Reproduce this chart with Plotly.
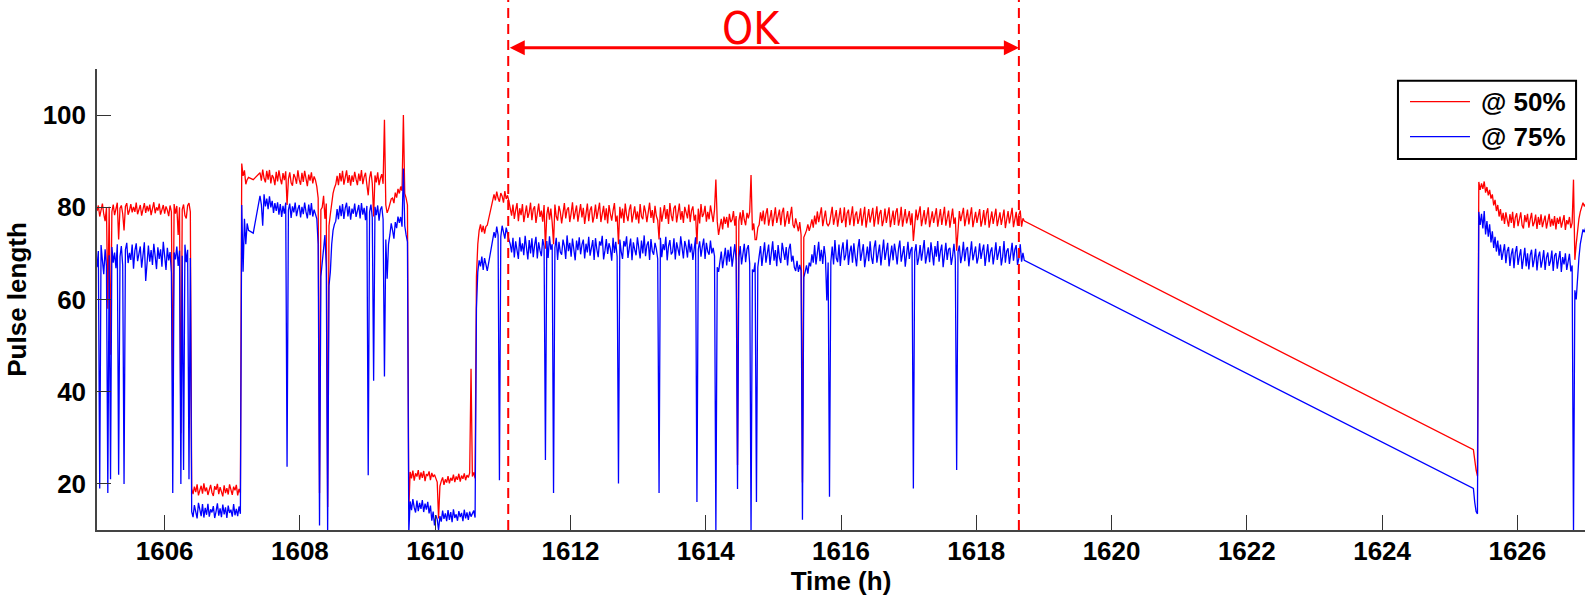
import numpy as np
import plotly.graph_objects as go

# ---------------- data ----------------
sample_step_h = 0.02
# start time (h) of each continuously recorded segment
seg_start = [1605.00, 1607.31, 1607.41, 1610.87, 1625.35]

red_s1 = [79.2, 80.4, 78.0, 79.6, 80.8, 78.5, 77.0, 79.9, 58.0, 80.1,
          48.0, 79.0, 80.6, 78.3, 79.5, 81.0, 73.0, 79.8, 80.4, 78.6,
          75.0, 80.2, 80.9, 78.4, 79.3, 80.7, 78.9, 80.1, 79.0, 81.0,
          78.5, 79.8, 80.5, 78.2, 79.6, 80.9, 78.8, 80.3, 79.1, 80.6,
          78.3, 79.9, 81.1, 78.7, 80.0, 79.3, 80.8, 78.4, 79.7, 80.5,
          78.6, 80.2, 79.4, 78.1, 80.4, 79.0, 39.0, 80.7, 78.6, 80.3,
          74.0, 80.0, 31.0, 79.5, 80.6, 78.2, 77.6, 80.4, 80.9, 79.0,
          19.0, 17.8, 19.4, 18.2, 19.9, 17.5, 18.6, 19.6, 17.9, 20.1,
          18.4, 19.2, 17.6, 18.9, 19.8, 18.1, 17.4, 19.5, 18.7, 20.0,
          17.8, 19.3, 18.5, 17.3, 19.7, 18.0, 19.1, 17.7, 19.9, 18.3,
          17.6, 19.4, 18.6, 19.8, 17.5, 18.9, 18.0,
          89.5, 86.8, 88.0, 85.0, 86.0, 86.5]
blue_s1 = [67.0, 70.5, 19.0, 71.8, 68.5, 65.5, 70.9, 67.2, 18.0, 69.6,
           21.0, 71.4, 68.0, 70.2, 66.8, 72.0, 22.0, 69.3, 71.6, 67.4,
           20.0, 70.8, 72.3, 67.9, 70.1, 68.6, 71.9, 66.7, 70.6, 72.2,
           68.3, 69.8, 71.5, 66.9, 70.4, 72.4, 64.0, 69.1, 71.7, 68.2,
           70.7, 67.5, 72.1, 69.4, 66.6, 71.3, 68.8, 70.9, 67.1, 72.5,
           69.0, 66.4, 71.2, 68.5, 70.3, 65.8, 18.0, 70.2, 68.7, 71.5,
           67.3, 70.6, 20.0, 69.5, 23.0, 71.9, 68.1, 70.8, 21.0, 69.0,
           14.0, 12.8, 15.4, 13.6, 12.5, 15.9, 14.2, 13.0, 15.6, 12.7,
           14.8, 13.3, 15.7, 12.9, 14.5, 13.8, 15.2, 12.6, 14.0, 15.8,
           13.1, 14.7, 12.8, 15.5, 13.4, 14.9, 12.6, 15.3, 13.7, 14.4,
           12.9, 15.6, 13.2, 14.6, 13.0, 15.1, 13.5,
           80.5, 66.0, 77.5, 72.0, 76.5, 75.0]

red_s2 = [86.0]
blue_s2 = [74.4]

red_s3 = [87.5, 85.8, 88.2, 86.3, 85.4, 87.9, 86.0, 88.1, 85.2, 87.0,
          86.4, 84.8, 87.7, 85.6, 88.0, 86.2, 85.0, 87.4, 85.9, 87.8,
          80.5, 86.1, 87.6, 85.3, 84.7, 87.2, 86.5, 85.1, 88.0, 86.0,
          84.9, 87.5, 85.5, 87.9, 86.3, 84.6, 87.1, 85.8, 87.6, 85.2,
          86.7, 85.9, 84.5, 82.0, 18.0, 79.5, 80.0, 82.5, 77.5, 80.8,
          15.0, 76.0, 78.5, 81.0, 83.0, 84.2, 85.0, 86.8, 84.8, 87.4,
          85.6, 87.9, 84.9, 86.5, 88.0, 85.3, 87.0, 84.7, 86.9, 85.5,
          87.7, 86.1, 84.8, 87.3, 85.7, 88.1, 85.0, 86.6, 87.5, 84.9,
          82.6, 86.4, 87.8, 85.2, 78.0, 86.9, 85.4, 87.6, 84.8, 86.3,
          87.2, 85.1, 99.0, 80.5, 78.8, 79.6, 80.5, 81.8, 82.0, 80.9,
          83.2, 82.1, 84.0, 83.0, 84.5, 83.6, 100.0, 83.0, 82.0, 80.5,
          14.5, 22.6, 21.2, 22.9, 20.7, 22.3, 21.6, 23.0, 20.9, 22.5,
          21.3, 22.8, 20.6, 22.1, 21.8, 22.7, 20.8, 22.4, 21.5, 22.0,
          21.2, 20.4, 12.5, 19.5, 20.6, 21.4, 19.8, 21.0, 20.3, 21.7,
          20.1, 21.3, 20.7, 22.0, 20.4, 21.6, 20.9, 22.2, 20.5, 21.8,
          21.1, 22.3, 20.8, 21.9, 21.4, 22.4, 45.0, 21.6, 22.5, 21.2,
          65.0, 72.0, 75.0, 76.3, 74.6, 76.0, 74.3, 75.8, 76.1]
blue_s3 = [82.5, 80.6, 76.0, 82.8, 80.2, 81.9, 79.6, 82.4, 80.0, 81.4,
           78.8, 80.9, 79.2, 81.1, 78.4, 80.7, 77.9, 80.3, 78.6, 81.0,
           23.7, 79.4, 80.8, 77.7, 80.2, 78.9, 81.0, 78.1, 79.6, 80.5,
           77.8, 80.1, 78.5, 81.0, 79.0, 77.6, 80.6, 78.3, 80.9, 78.0,
           79.5, 78.2, 77.5, 72.0, 11.0, 65.0, 68.0, 72.5, 74.0, 67.0,
           9.5, 63.0, 66.0, 72.0, 75.0, 76.3, 77.0, 79.6, 77.4, 80.4,
           78.1, 80.7, 77.5, 79.8, 81.0, 78.0, 80.2, 77.3, 79.7, 78.6,
           80.8, 77.9, 79.3, 80.5, 77.6, 80.9, 78.4, 79.9, 77.2, 80.3,
           21.9, 79.0, 80.6, 77.8, 42.4, 80.1, 78.3, 80.4, 77.1, 79.5,
           80.2, 77.4, 43.3, 73.0, 64.5, 72.0, 74.0, 76.5, 75.0, 73.2,
           76.8, 75.5, 78.0, 76.6, 77.9, 75.8, 88.4, 76.0, 74.0, 72.5,
           9.5, 16.2, 14.3, 16.7, 14.9, 13.8, 16.4, 14.1, 15.9, 14.6,
           16.5, 13.9, 15.7, 14.4, 16.1, 13.6, 15.3, 12.0, 14.0, 11.0,
           13.2, 12.3, 10.0, 13.0, 11.8, 14.2, 12.4, 13.6, 11.9, 14.3,
           12.2, 13.9, 11.7, 14.5, 12.6, 13.4, 12.0, 14.1, 12.8, 13.7,
           11.9, 14.4, 12.5, 13.8, 12.2, 14.0, 12.9, 13.5, 14.2, 12.7,
           58.0, 66.0, 68.5, 67.2, 69.3, 66.4, 69.0, 67.6, 66.2]

red_s4 = [82.8, 81.5, 83.4, 82.0, 81.2, 83.1, 82.4, 81.0, 83.5, 81.8,
          82.6, 81.3, 80.0, 78.2, 80.6, 77.5, 79.4, 80.9, 77.0, 79.8,
          78.3, 80.7, 76.8, 79.1, 80.4, 77.7, 78.9, 81.0, 77.2, 79.6,
          80.2, 76.6, 78.8, 80.8, 77.9, 79.3, 76.9, 80.5, 71.0, 78.4,
          80.1, 77.3, 79.7, 76.7, 72.0, 80.6, 78.0, 77.1, 80.3, 79.0,
          76.5, 78.6, 80.9, 77.6, 79.5, 80.0, 76.8, 78.7, 81.1, 77.4,
          79.2, 80.4, 76.9, 78.5, 80.7, 77.8, 79.9, 76.4, 78.9, 80.8,
          77.0, 79.4, 80.2, 76.7, 78.1, 80.6, 77.5, 79.6, 81.0, 76.8,
          78.4, 80.3, 77.2, 79.8, 76.5, 80.5, 78.6, 77.1, 79.3, 80.9,
          76.9, 78.2, 72.0, 80.1, 77.6, 79.7, 76.6, 80.8, 78.3, 77.0,
          79.5, 80.6, 76.7, 78.8, 80.2, 77.3, 79.1, 76.5, 80.7, 78.0,
          77.4, 80.4, 79.0, 76.8, 78.6, 81.0, 77.7, 79.4, 76.6, 80.3,
          78.1, 77.2, 73.0, 80.0, 76.9, 78.7, 80.5, 77.5, 79.6, 76.4,
          80.9, 78.3, 77.0, 79.8, 80.4, 76.7, 78.5, 80.8, 77.3, 79.2,
          76.6, 80.1, 78.9, 77.6, 80.6, 76.8, 79.3, 80.2, 77.1, 78.4,
          72.0, 79.7, 76.5, 80.7, 77.9, 78.6, 80.3, 76.9, 79.0, 77.4,
          80.4, 78.2, 76.8, 79.5, 86.0, 77.0, 74.0, 75.8, 77.5, 75.2,
          78.0, 76.4, 77.9, 75.6, 78.6, 76.8, 77.3, 79.2, 76.0, 78.1,
          24.1, 77.0, 78.9, 76.2, 79.4, 77.3, 76.1, 78.8, 77.6, 79.0,
          87.0, 75.0, 76.5, 73.0, 73.0, 75.6, 76.2, 78.9, 77.0, 79.3,
          76.3, 78.6, 79.8, 76.0, 77.7, 79.4, 75.9, 78.2, 80.0, 76.6,
          77.8, 79.5, 76.1, 78.9, 79.9, 75.8, 77.5, 79.2, 76.4, 78.7,
          80.1, 76.2, 75.5, 77.6, 76.0, 74.8, 76.8, 74.0, 20.3, 73.5,
          74.2, 75.0, 76.3, 74.9, 76.0, 77.4, 75.6, 78.2, 76.3, 79.1,
          76.8, 78.4, 80.0, 75.9, 77.6, 79.3, 76.5, 76.0, 76.5, 78.9,
          80.1, 76.2, 77.8, 79.4, 75.8, 78.5, 79.9, 76.6, 77.3, 80.0,
          75.7, 78.7, 79.5, 76.1, 77.9, 80.2, 75.9, 78.3, 79.1, 76.4,
          77.6, 79.8, 76.0, 78.8, 80.1, 75.6, 77.4, 79.6, 76.7, 78.2,
          79.9, 75.8, 77.9, 80.2, 76.3, 78.6, 79.4, 75.9, 77.2, 79.7,
          76.6, 78.4, 80.0, 75.7, 77.7, 79.3, 76.2, 78.9, 79.8, 76.0,
          77.5, 80.1, 75.8, 78.3, 79.6, 76.5, 77.8, 79.2, 76.1, 78.7,
          72.7, 76.4, 79.5, 77.2, 78.6, 80.2, 75.9, 77.6, 79.4, 76.3,
          78.1, 80.0, 75.7, 77.9, 79.1, 76.6, 78.5, 79.8, 75.8, 77.3,
          79.6, 76.2, 78.8, 80.1, 76.0, 77.5, 79.3, 75.6, 78.2, 79.7,
          76.4, 77.8, 70.6, 76.5, 79.2, 77.0, 78.6, 79.9, 75.9, 77.4,
          79.5, 76.3, 78.1, 80.0, 75.7, 77.8, 79.0, 76.6, 78.4, 79.6,
          75.8, 77.2, 79.4, 76.1, 78.7, 79.8, 75.6, 77.6, 79.1, 76.4,
          78.3, 79.7, 75.9, 77.4, 78.9, 76.2, 78.0, 79.5, 75.5, 77.7,
          79.2, 76.5, 78.6, 79.9, 75.7, 77.3, 79.0, 76.0, 78.4, 79.3,
          75.8, 77.6, 77.0]
blue_s4 = [74.6, 73.4, 75.8, 74.0, 20.8, 73.6, 76.0, 74.3, 73.2, 75.6,
           74.1, 73.0, 72.0, 70.2, 73.4, 69.1, 72.6, 71.0, 68.8, 73.5,
           70.4, 72.2, 69.6, 73.8, 71.3, 68.7, 72.9, 70.0, 73.3, 69.2,
           71.8, 73.6, 68.9, 72.4, 70.6, 69.4, 73.1, 71.5, 25.2, 72.7,
           69.0, 73.7, 70.8, 72.0, 18.0, 71.2, 73.4, 68.6, 72.5, 70.3,
           69.7, 73.0, 71.6, 68.8, 73.9, 70.5, 72.3, 69.3, 73.2, 71.1,
           68.5, 72.8, 70.7, 73.5, 69.8, 71.9, 73.0, 68.9, 72.1, 70.2,
           73.6, 69.5, 71.4, 72.9, 68.6, 73.3, 70.9, 69.2, 72.6, 71.7,
           73.8, 68.7, 70.6, 73.1, 69.9, 72.2, 71.0, 68.4, 73.4, 70.1,
           72.5, 69.3, 20.1, 73.0, 70.4, 68.8, 72.7, 71.5, 73.7, 69.0,
           71.2, 73.2, 68.5, 72.4, 70.8, 69.6, 73.5, 71.3, 68.9, 72.8,
           70.0, 73.9, 69.4, 71.8, 72.6, 68.6, 73.1, 70.5, 69.7, 72.3,
           71.0, 68.8, 18.0, 73.4, 69.2, 72.0, 70.7, 73.6, 68.5, 71.6,
           72.9, 69.8, 70.3, 73.3, 68.7, 72.4, 71.1, 69.5, 73.7, 70.6,
           68.9, 72.7, 71.4, 69.1, 73.0, 70.2, 72.1, 68.6, 71.9, 73.5,
           16.1, 70.9, 72.6, 69.3, 71.5, 73.2, 68.8, 72.3, 70.4, 69.7,
           72.8, 70.0, 71.2, 69.4, 9.3, 67.0, 66.0, 68.6, 70.4, 66.8,
           69.7, 71.2, 67.4, 70.8, 68.2, 71.5, 67.1, 69.9, 72.0, 68.3,
           18.9, 69.0, 71.6, 67.6, 70.5, 72.1, 68.1, 70.9, 71.8, 67.8,
           9.3, 66.5, 66.0, 68.0, 16.1, 67.0, 69.4, 71.6, 67.3, 70.8,
           72.4, 68.0, 70.2, 71.9, 67.5, 69.6, 72.6, 68.4, 70.7, 67.2,
           71.8, 69.1, 67.9, 72.3, 70.0, 68.6, 71.4, 67.4, 70.9, 72.1,
           68.2, 69.5, 67.0, 66.2, 68.4, 66.0, 67.5, 66.2, 12.2, 64.8,
           66.0, 67.4, 65.6, 68.0, 67.2, 69.8, 68.0, 71.8, 67.6, 70.4,
           72.5, 68.3, 70.8, 67.7, 71.6, 69.2, 59.8, 68.0, 17.2, 68.2,
           71.5, 67.6, 72.9, 69.0, 68.1, 71.9, 67.3, 70.6, 72.4, 68.5,
           69.7, 73.0, 67.5, 70.3, 71.7, 68.0, 72.2, 69.4, 67.2, 71.1,
           73.1, 68.4, 70.1, 72.0, 67.0, 69.8, 71.5, 68.3, 72.6, 69.2,
           67.7, 71.3, 72.8, 68.0, 70.5, 71.9, 67.4, 69.6, 73.0, 68.6,
           70.9, 72.3, 67.2, 69.9, 71.7, 68.5, 72.1, 70.2, 67.6, 71.0,
           72.8, 68.2, 70.4, 71.6, 67.1, 69.5, 72.5, 68.8, 70.7, 71.4,
           19.0, 70.3, 72.0, 67.5, 69.1, 71.8, 68.4, 70.6, 72.9, 67.8,
           69.8, 71.3, 68.1, 72.4, 70.0, 67.4, 71.6, 69.3, 72.7, 68.2,
           70.5, 71.9, 67.0, 69.7, 72.3, 68.6, 70.9, 71.2, 67.5, 69.4,
           72.1, 68.7, 23.0, 70.3, 71.7, 67.9, 69.6, 72.5, 68.3, 70.8,
           71.4, 67.2, 69.9, 72.6, 68.5, 70.1, 71.5, 67.8, 69.2, 72.2,
           68.8, 70.6, 71.9, 67.3, 69.5, 72.0, 68.1, 70.4, 71.3, 67.6,
           69.8, 72.4, 68.6, 70.2, 71.6, 67.4, 69.3, 72.7, 68.0, 70.5,
           71.1, 67.7, 69.6, 72.3, 68.4, 70.8, 71.8, 67.5, 69.0, 72.0,
           68.2, 70.1, 68.5]

red_s5 = [27.4, 25.0, 23.0, 21.7, 85.5, 83.8, 85.2, 84.0, 85.6, 83.2,
          84.4, 82.6, 83.8, 81.9, 82.8, 80.4, 81.6, 79.2, 80.5, 78.0,
          79.6, 77.1, 78.8, 76.4, 78.9, 77.3, 75.8, 78.5, 76.6, 79.0,
          75.5, 77.8, 78.7, 75.9, 77.2, 78.9, 76.1, 75.4, 78.3, 76.8,
          78.6, 75.6, 77.4, 78.8, 75.9, 76.7, 78.4, 75.3, 77.9, 76.2,
          78.5, 75.7, 77.0, 78.2, 75.4, 76.9, 78.6, 75.8, 77.5, 76.0,
          78.1, 75.2, 77.7, 76.4, 78.0, 75.6, 76.8, 78.3, 75.1, 77.2,
          76.3, 77.9, 75.5, 76.6, 86.0, 68.6, 72.0, 75.0, 77.5, 79.0,
          80.0, 81.0, 80.2, 80.8, 80.4]
blue_s5 = [19.0, 16.0, 14.0, 13.5, 79.0, 76.2, 78.6, 75.4, 79.2, 74.1,
           77.0, 73.6, 76.3, 72.4, 74.8, 71.2, 73.6, 70.4, 72.8, 69.5,
           71.9, 68.6, 70.8, 72.0, 67.9, 70.5, 71.4, 67.3, 69.8, 71.1,
           66.8, 70.2, 71.6, 67.5, 69.4, 70.9, 66.6, 68.9, 71.2, 67.2,
           70.0, 66.5, 69.6, 70.8, 67.0, 68.7, 71.0, 66.3, 69.3, 70.4,
           66.9, 68.5, 70.7, 66.4, 69.1, 70.2, 67.3, 68.3, 70.6, 66.2,
           69.5, 70.1, 66.7, 68.8, 70.5, 66.0, 69.2, 67.6, 70.0, 66.4,
           68.6, 69.9, 66.1, 67.4, 9.3, 62.0, 60.0, 66.0, 69.0, 72.0,
           74.0, 75.2, 74.6, 75.6, 75.0]

series_names = ["@ 50%", "@ 75%"]
x_ticks = [1606, 1608, 1610, 1612, 1614, 1616, 1618, 1620, 1622, 1624, 1626]
y_ticks = [20, 40, 60, 80, 100]
ok_bounds = [1611.08, 1618.63]
ok_label = "OK"


# ---------------- assemble ----------------
def build(segments):
    tt, vv = [], []
    for s0, vals in zip(seg_start, segments):
        tt.extend((s0 + sample_step_h * np.arange(len(vals))).tolist())
        vv.extend(vals)
    return tt, vv


t_red, red = build([red_s1, red_s2, red_s3, red_s4, red_s5])
t_blue, blue = build([blue_s1, blue_s2, blue_s3, blue_s4, blue_s5])

FONT = "Liberation Sans, Arial, sans-serif"
BOLD = dict(family=FONT, size=26, color="black", weight="bold")

fig = go.Figure()
fig.add_trace(go.Scatter(x=t_red, y=red, mode="lines", name=series_names[0],
                         line=dict(color="#ff0000", width=1.3), showlegend=False))
fig.add_trace(go.Scatter(x=t_blue, y=blue, mode="lines", name=series_names[1],
                         line=dict(color="#0000ff", width=1.3), showlegend=False))

fig.update_layout(
    width=1585, height=605, autosize=False,
    margin=dict(l=97, r=0, t=69, b=75),
    plot_bgcolor="white", paper_bgcolor="white",
    showlegend=False,
)
axis_common = dict(showgrid=False, zeroline=False, showline=True, linecolor="#444444",
                   linewidth=1.5, ticks="inside", tickcolor="#333333", tickwidth=1.3,
                   tickfont=BOLD, automargin=False)
fig.update_xaxes(range=[1605, 1627], tickvals=x_ticks, ticklen=15, ticklabelstandoff=-3,
                 title=dict(text="Time (h)", standoff=6, font=BOLD),
                 **axis_common)
fig.update_yaxes(range=[10, 110], tickvals=y_ticks, ticklen=14, ticklabelstandoff=4,
                 title=dict(text="Pulse length", standoff=9, font=BOLD),
                 **axis_common)

shapes = []
for xv in ok_bounds:
    shapes.append(dict(type="line", xref="x", yref="paper", x0=xv, x1=xv, y0=0, y1=1.16,
                       line=dict(color="#ff0000", width=2, dash="10px,6px")))
# legend drawn by hand (60 px line samples as in the reference)
shapes.append(dict(type="rect", xref="paper", yref="paper", x0=0.8743, x1=0.9940,
                   y0=0.8048, y1=0.9746, line=dict(color="black", width=2), fillcolor="white"))
shapes.append(dict(type="line", xref="paper", yref="paper", x0=0.8824, x1=0.9227,
                   y0=0.9291, y1=0.9291, line=dict(color="#ff0000", width=1.3)))
shapes.append(dict(type="line", xref="paper", yref="paper", x0=0.8824, x1=0.9227,
                   y0=0.8531, y1=0.8531, line=dict(color="#0000ff", width=1.3)))
fig.update_layout(shapes=shapes)

annotations = [
    dict(x=ok_bounds[1], y=1.0462, xref="x", yref="paper", ax=ok_bounds[0], ay=0,
         axref="x", ayref="pixel", showarrow=True, arrowhead=2, startarrowhead=2,
         arrowside="end+start", arrowcolor="#ff0000", arrowwidth=3, arrowsize=1,
         startarrowsize=1, standoff=0, startstandoff=0, text=""),
    dict(x=1614.67, y=1.1453, xref="x", yref="paper", text=ok_label, showarrow=False,
         font=dict(family="DejaVu Sans Condensed, DejaVu Sans", size=44, color="#ff0000"),
         xanchor="center", yanchor="top", borderpad=0),
    dict(x=0.9288, y=0.9291, xref="paper", yref="paper", text=series_names[0], showarrow=False,
         xanchor="left", yanchor="middle", font=BOLD),
    dict(x=0.9288, y=0.8531, xref="paper", yref="paper", text=series_names[1], showarrow=False,
         xanchor="left", yanchor="middle", font=BOLD),
]
fig.update_layout(annotations=annotations)

fig.write_html("out.html")
